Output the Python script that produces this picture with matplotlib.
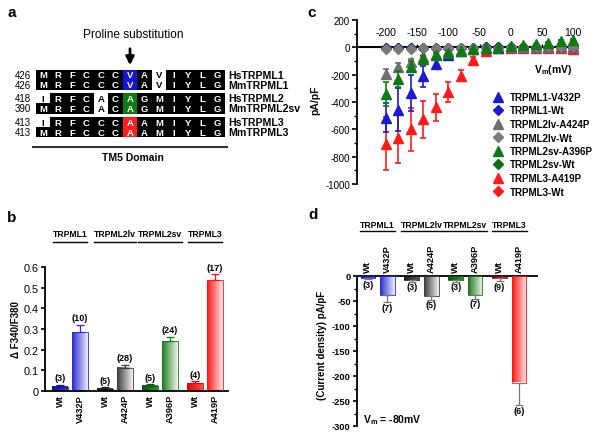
import numpy as np
import matplotlib.pyplot as plt
import matplotlib.transforms as mtransforms
from matplotlib.colors import LinearSegmentedColormap
from matplotlib.lines import Line2D
from matplotlib.patches import Rectangle
from matplotlib.ticker import MultipleLocator

plt.rcParams['font.family'] = ['Liberation Sans', 'DejaVu Sans']
plt.rcParams['mathtext.fontset'] = 'custom'
plt.rcParams['mathtext.rm'] = 'Liberation Sans'
plt.rcParams['mathtext.bf'] = 'Liberation Sans:bold'
plt.rcParams['axes.unicode_minus'] = False

# ---- panel a: alignment ----
seq_names = ['HsTRPML1', 'MmTRPML1', 'HsTRPML2', 'MmTRPML2sv', 'HsTRPML3', 'MmTRPML3']
seq_start = [426, 426, 418, 390, 413, 413]
seqs = ['MRFCCCVAVIYLG', 'MRFCCCVAVIYLG', 'IRFCACAGMIYLG',
        'MRFCACAGMIYLG', 'IRFCCCAAMIYLG', 'MRFCCCAAMIYLG']
boxed = ['1111111101111', '1111111101111', '0111010111111',
         '1111010111111', '0111111111111', '1111111111111']
site_col = 6
site_colors = ['#1414d2', '#1414d2', '#0e7a14', '#0e7a14', '#ff1e1e', '#ff1e1e']

# ---- panels b and d: bars ----
groups = ['TRPML1', 'TRPML2lv', 'TRPML2sv', 'TRPML3']
constructs = ['Wt', 'V432P', 'Wt', 'A424P', 'Wt', 'A396P', 'Wt', 'A419P']
b_vals = [0.020, 0.285, 0.012, 0.112, 0.025, 0.240, 0.038, 0.535]
b_err = [0.010, 0.035, 0.005, 0.016, 0.008, 0.022, 0.010, 0.030]
b_n = [3, 10, 5, 28, 5, 24, 4, 17]
d_vals = [-4, -38, -8, -40, -8, -38, -4, -213]
d_err = [2, 14, 3, 7, 3, 7, 6, 45]
d_n = [3, 7, 3, 5, 3, 7, 9, 6]

# ---- panel c: I-V ----
vm = [-200, -180, -160, -140, -120, -100, -80, -60, -40, -20, 0, 20, 40, 60, 80, 100]
l1_mut = [-515, -455, -334, -213, -124, -58, -28, -12, -5, -2, 0, 1, 2, 3, 4, 5]
l1_mut_err = [105, 155, 130, 80, 38, 18, 10, 5, 3, 2, 1, 1, 1, 1, 2, 2]
l2lv_mut = [-195, -141, -104, -72, -46, -28, -16, -8, -4, -1, 0, 1, 2, 3, 4, 5]
l2lv_mut_err = [38, 25, 20, 14, 10, 7, 5, 3, 2, 1, 1, 1, 1, 1, 1, 1]
l2sv_mut = [-340, -232, -141, -85, -56, -39, -26, -14, -7, 2, 8, 16, 22, 35, 46, 53]
l2sv_mut_err = [90, 60, 40, 25, 15, 10, 8, 5, 3, 2, 2, 3, 4, 6, 8, 10]
l3_mut = [-706, -661, -600, -528, -438, -327, -208, -92, -25, -6, -2, -3, -4, -5, -7, -10]
l3_mut_err = [195, 185, 158, 133, 98, 75, 40, 18, 8, 3, 2, 2, 3, 4, 6, 10]
l1_wt = [-6, -5, -4, -4, -3, -3, -2, -2, -1, -1, 0, 0, 1, 1, 2, 2]
l2lv_wt = [-12, -10, -9, -8, -7, -6, -5, -4, -3, -2, -1, 0, 1, 1, 2, 2]
l2sv_wt = [-8, -7, -6, -5, -5, -4, -3, -2, -1, 0, 1, 2, 3, 4, 5, 6]
l3_wt = [-5, -5, -4, -4, -3, -3, -2, -2, -1, -1, 0, -1, -1, -2, -2, -3]

W, H = 600, 439
fig = plt.figure(figsize=(6, 4.39), dpi=100)
renderer = fig.canvas.get_renderer()


def px_axes(x0, y0, x1, y1):
    return fig.add_axes([x0 / W, 1 - y1 / H, (x1 - x0) / W, (y1 - y0) / H])


def fy(py):
    return 1 - py / H


for lab, x, y in [('a', 12, 13), ('b', 12, 218), ('c', 312, 13), ('d', 313, 215)]:
    fig.text(x / W, fy(y), lab, fontsize=11, fontweight='bold', ha='center', va='center')

# ---------------- a ----------------
axa = px_axes(0, 0, 300, 215)
axa.set_xlim(0, 300)
axa.set_ylim(215, 0)
axa.axis('off')
cw, rh = 14.5, 10
for i, (s, bx) in enumerate(zip(seqs, boxed)):
    y = 76 + (i // 2) * 23.5 + (i % 2) * rh
    for j, (ch, b) in enumerate(zip(s, bx)):
        x = 43 + cw * j
        face = None
        if j == site_col:
            face = site_colors[i]
        elif b == '1':
            face = 'black'
        if face is not None:
            axa.add_patch(Rectangle((x - cw / 2, y - rh / 2 - 0.2), cw + 0.3, rh + 0.4,
                                    facecolor=face, edgecolor='none'))
        axa.text(x, y, ch, ha='center', va='center', fontsize=6.8, fontweight='bold',
                 color='white' if face is not None else 'black')
    axa.text(31, y, str(seq_start[i]), ha='right', va='center', fontsize=7)
    axa.text(228, y, seq_names[i], ha='left', va='center', fontsize=7.6, fontweight='bold')
axa.text(133, 35, 'Proline substitution', ha='center', va='center', fontsize=8.6)
axa.annotate('', xy=(130, 69), xytext=(130, 47),
             arrowprops=dict(arrowstyle='-|>', color='black', lw=2, mutation_scale=12))
axa.plot([33, 227], [148, 148], color='#333333', lw=1.5)
axa.text(133, 158, 'TM5 Domain', ha='center', va='center', fontsize=7.5, fontweight='bold')

# ---------------- bar helpers ----------------
pos = []
for g in range(len(groups)):
    pos += [g * 2.25, g * 2.25 + 1]

b_colors = [('#14148c', '#3a3ac0'), ('#2c2cd0', '#ececff'),
            ('#181818', '#505050'), ('#3c3c3c', '#f2f2f2'),
            ('#0a5a0a', '#2f8f2f'), ('#1c781c', '#eef8ee'),
            ('#e00000', '#ff5050'), ('#ff1414', '#ffeaea')]
d_colors = [('#1a1ab8', '#5050e0'), ('#2c2cd0', '#ececff'),
            ('#1a1a1a', '#555555'), ('#3c3c3c', '#f2f2f2'),
            ('#0a5a0a', '#2f8f2f'), ('#1c781c', '#eef8ee'),
            ('#8c0a0a', '#c03030'), ('#ff1414', '#ffeaea')]


def grad_bar(ax, x, h, w, c0, c1):
    cmap = LinearSegmentedColormap.from_list('g', [c0, c1])
    y0, y1 = sorted([0, h])
    ax.imshow(np.linspace(0, 1, 64)[None, :], cmap=cmap, aspect='auto',
              extent=(x - w / 2, x + w / 2, y0, y1), zorder=2, interpolation='bilinear')
    ax.bar(x, h, w, fill=False, edgecolor=c0, lw=0.6, zorder=3)


def group_labels(ax, y_text, y_line):
    tr = mtransforms.blended_transform_factory(ax.transData, fig.transFigure)
    for g, name in enumerate(groups):
        xc = (pos[2 * g] + pos[2 * g + 1]) / 2
        t = ax.text(xc, fy(y_text), name, transform=tr, ha='center', va='center',
                    fontsize=6.2, fontweight='bold')
        bb = t.get_window_extent(renderer)
        fig.add_artist(Line2D([bb.x0 / W, bb.x1 / W], [fy(y_line)] * 2,
                              transform=fig.transFigure, color='black', lw=1))


# ---------------- b ----------------
axb = px_axes(45, 268, 228, 392)
for k in range(len(pos)):
    grad_bar(axb, pos[k], b_vals[k], 0.8, *b_colors[k])
    axb.errorbar(pos[k], b_vals[k], yerr=[[0], [b_err[k]]], fmt='none',
                 ecolor=b_colors[k][0], capsize=3, elinewidth=0.9, capthick=0.9, zorder=4)
    axb.text(pos[k], b_vals[k] + b_err[k] + 0.012, f'({b_n[k]})', ha='center', va='bottom',
             fontsize=6.5, fontweight='bold')
axb.set_xlim(-0.75, 8.4)
axb.set_ylim(0, 0.6)
axb.set_yticks([0, 0.1, 0.2, 0.3, 0.4, 0.5, 0.6])
axb.set_yticklabels(['0', '0.1', '0.2', '0.3', '0.4', '0.5', '0.6'])
axb.set_xticks(pos)
axb.set_xticklabels(constructs, rotation=90, fontsize=6.7, fontweight='bold')
axb.tick_params(axis='x', length=0, pad=2)
axb.tick_params(axis='y', labelsize=7.8, length=3, width=1.2, pad=1.5)
for s in ['top', 'right']:
    axb.spines[s].set_visible(False)
for s in ['left', 'bottom']:
    axb.spines[s].set_linewidth(1.3)
fig.text(16 / W, fy(330), 'Δ F340/F380', rotation=90, ha='center', va='center',
         fontsize=7, fontweight='bold')
group_labels(axb, 235, 243)

# ---------------- d ----------------
axd = px_axes(357, 277, 537, 427)
for k in range(len(pos)):
    grad_bar(axd, pos[k], d_vals[k], 0.75, *d_colors[k])
    axd.errorbar(pos[k], d_vals[k], yerr=[[d_err[k]], [0]], fmt='none',
                 ecolor='#777777', capsize=3, elinewidth=0.9, capthick=0.9, zorder=4)
    axd.text(pos[k], d_vals[k] - d_err[k] - 2, f'({d_n[k]})', ha='center', va='top',
             fontsize=6.5, fontweight='bold')
axd.set_xlim(-0.56, 8.67)
axd.set_ylim(-300, 0)
axd.yaxis.set_major_locator(MultipleLocator(50))
axd.yaxis.set_minor_locator(MultipleLocator(25))
axd.xaxis.tick_top()
axd.set_xticks(pos)
axd.set_xticklabels(constructs, rotation=90, fontsize=6.7, fontweight='bold')
axd.tick_params(axis='x', length=0, pad=3)
axd.tick_params(axis='y', which='major', labelsize=6.7, length=3, width=1.2, pad=1.5)
axd.tick_params(axis='y', which='minor', length=2, width=1)
for lbl in axd.get_yticklabels():
    lbl.set_fontweight('bold')
for s in ['bottom', 'right']:
    axd.spines[s].set_visible(False)
for s in ['left', 'top']:
    axd.spines[s].set_linewidth(1.3)
fig.text(322 / W, fy(345), '(Current density) pA/pF', rotation=90, ha='center',
         va='center', fontsize=7, fontweight='bold')
fig.text(363 / W, fy(420), r'$\mathbf{V_m}$ = -80mV', ha='left', va='center',
         fontsize=7.5, fontweight='bold')
group_labels(axd, 225, 232)

# ---------------- c ----------------
axc = px_axes(357, 21, 578, 185)
series = [
    ('TRPML3-A419P', l3_mut, l3_mut_err, '^', '#ff1a1a', 3),
    ('TRPML1-V432P', l1_mut, l1_mut_err, '^', '#1a1ad2', 4),
    ('TRPML2lv-A424P', l2lv_mut, l2lv_mut_err, '^', '#6e6e6e', 5),
    ('TRPML3-Wt', l3_wt, None, 'D', '#ff1a1a', 6),
    ('TRPML2sv-Wt', l2sv_wt, None, 'D', '#0e6e14', 6.2),
    ('TRPML1-Wt', l1_wt, None, 'D', '#1a1ad2', 6.4),
    ('TRPML2lv-Wt', l2lv_wt, None, 'D', '#7a7a7a', 6.6),
    ('TRPML2sv-A396P', l2sv_mut, l2sv_mut_err, '^', '#0e7a14', 7),
]
handles = {}
for name, y, e, m, c, z in series:
    if e is not None:
        axc.errorbar(vm, y, yerr=e, fmt='none', ecolor=c, capsize=2, elinewidth=1.2,
                     capthick=1.2, zorder=z)
    ms = 7.5 if m == '^' else 5.5
    axc.plot(vm, y, ls='none', marker=m, color=c, markersize=ms, zorder=z + 0.1)
    handles[name] = Line2D([], [], ls='none', marker=m, color=c, markersize=ms)
axc.set_xlim(-246.5, 108)
axc.set_ylim(-1000, 200)
axc.spines['right'].set_visible(False)
axc.spines['bottom'].set_visible(False)
axc.spines['top'].set_position(('data', 0))
axc.spines['top'].set_linewidth(1.5)
axc.spines['left'].set_linewidth(1.3)
axc.xaxis.tick_top()
axc.set_xticks([-200, -150, -100, -50, 0, 50, 100])
axc.set_xticklabels(['-200', '-150', '-100', '-50', '0', '50', '100'])
axc.tick_params(axis='x', labelsize=7.5, length=2.5, width=1, pad=5)
axc.yaxis.set_major_locator(MultipleLocator(200))
axc.yaxis.set_minor_locator(MultipleLocator(100))
axc.tick_params(axis='y', which='major', labelsize=7, length=3.5, width=1.2, pad=1.5)
axc.tick_params(axis='y', which='minor', length=2, width=1)
fig.text(315 / W, fy(100), 'pA/pF', rotation=90, ha='center', va='center',
         fontsize=7.5, fontweight='bold')
fig.text(553 / W, fy(70), r'$\mathbf{V_m}$(mV)', ha='center', va='center',
         fontsize=7.5, fontweight='bold')
order = ['TRPML1-V432P', 'TRPML1-Wt', 'TRPML2lv-A424P', 'TRPML2lv-Wt',
         'TRPML2sv-A396P', 'TRPML2sv-Wt', 'TRPML3-A419P', 'TRPML3-Wt']
leg = fig.legend([handles[n] for n in order], order, loc='upper left',
                 bbox_to_anchor=(493 / W, fy(93)), frameon=False, fontsize=7,
                 handlelength=1.0, handletextpad=0.7, labelspacing=0.36,
                 borderpad=0, borderaxespad=0)
for t in leg.get_texts():
    t.set_fontweight('bold')

fig.savefig('out.png', dpi=100)
